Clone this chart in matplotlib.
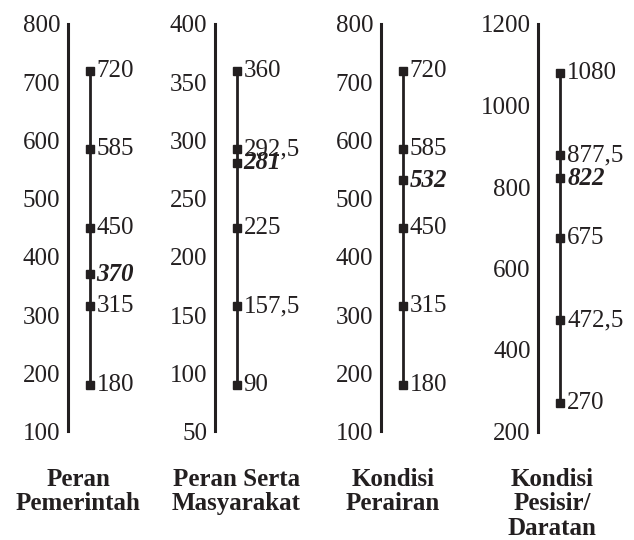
import matplotlib
matplotlib.use('Agg')
import matplotlib.pyplot as plt

plt.rcParams['font.family'] = ['Liberation Serif', 'DejaVu Serif']

# criteria (one panel each)
categories = ['Peran\nPemerintah', 'Peran Serta\nMasyarakat', 'Kondisi\nPerairan', 'Kondisi\nPesisir/\nDaratan']

# class limits on each scale
scale_values = [
    [180, 315, 450, 585, 720],
    [90, 157.5, 225, 292.5, 360],
    [180, 315, 450, 585, 720],
    [270, 472.5, 675, 877.5, 1080],
]
scale_labels = [
    ['180', '315', '450', '585', '720'],
    ['90', '157,5', '225', '292,5', '360'],
    ['180', '315', '450', '585', '720'],
    ['270', '472,5', '675', '877,5', '1080'],
]

# obtained scores
scores = [370, 281, 532, 822]

# axis ranges and tick steps
y_min = [100, 50, 100, 200]
y_max = [800, 400, 800, 1200]
y_step = [100, 50, 100, 200]

ink = '#231f20'
W, H = 634, 540
fig = plt.figure(figsize=(W / 100, H / 100), dpi=100)

spine_x = [67.7, 214.7, 380.7, 538.3]
marker_dx = 22.0
ax_w = 70.0
bottom = 1 - 431.5 / H
top = 1 - 24 / H
label_x = [78.5, 236.5, 393, 552]

for i in range(4):
    ax = fig.add_axes([spine_x[i] / W, bottom, ax_w / W, top - bottom])
    ax.set_xlim(0, ax_w)
    ax.set_ylim(y_min[i], y_max[i])
    for s in ['top', 'right', 'bottom']:
        ax.spines[s].set_visible(False)
    ax.spines['left'].set_linewidth(2.2)
    ax.spines['left'].set_color(ink)
    ax.set_xticks([])
    ticks = list(range(y_min[i], y_max[i] + 1, y_step[i]))
    ax.set_yticks(ticks)
    ax.set_yticklabels([str(t) for t in ticks])
    ax.tick_params(axis='y', length=0, pad=5.5, labelsize=18, labelcolor=ink)

    vals = scale_values[i]
    ax.plot([marker_dx] * len(vals), vals, color=ink, lw=2.0,
            marker='s', ms=6, mfc=ink, mec=ink, clip_on=False)
    for v, lab in zip(vals, scale_labels[i]):
        ax.annotate(lab, (marker_dx, v), xytext=(5, 0), textcoords='offset points',
                    ha='left', va='center', fontsize=18, color=ink)
    ax.plot([marker_dx], [scores[i]], marker='s', ms=6, color=ink, clip_on=False)
    ax.annotate(str(scores[i]), (marker_dx, scores[i]), xytext=(5, 0),
                textcoords='offset points', ha='left', va='center', fontsize=18,
                fontweight='bold', fontstyle='italic', color=ink)

    fig.text(label_x[i] / W, 1 - 468 / H, categories[i], ha='center', va='top',
             fontsize=18, fontweight='bold', color=ink, linespacing=1.07)

fig.savefig('out.png', dpi=100)
